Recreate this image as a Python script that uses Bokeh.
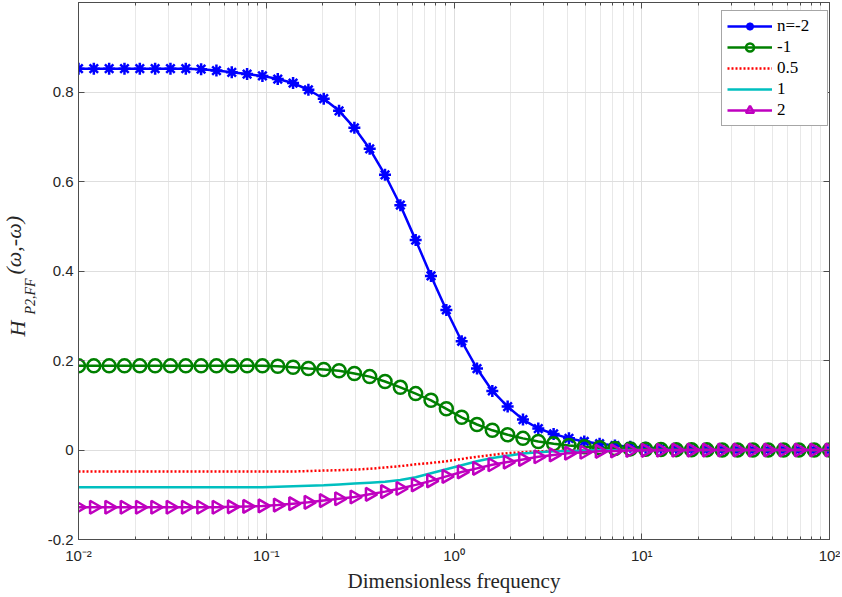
import numpy as np
from bokeh.plotting import figure
from bokeh.models import (LogAxis, LinearAxis, FixedTicker, Legend,
                          LegendItem, Range1d, Title)
from bokeh.embed import file_html
from bokeh.resources import INLINE

# ---------------- data ----------------
freq = [0.01, 0.012068, 0.014563, 0.017575, 0.021210, 0.025595, 0.030888,
        0.037276, 0.044984, 0.054287, 0.065513, 0.079060, 0.095410, 0.11514,
        0.13895, 0.16768, 0.20236, 0.24421, 0.29471, 0.35565, 0.42919,
        0.51795, 0.62506, 0.75431, 0.91030, 1.0985, 1.3257, 1.5999, 1.9307,
        2.3300, 2.8118, 3.3932, 4.0949, 4.9417, 5.9636, 7.1969, 8.6851,
        10.481, 12.649, 15.264, 18.421, 22.230, 26.827, 32.375, 39.069,
        47.149, 56.899, 68.665, 82.864, 100.0]

h_n_m2 = [0.852, 0.852, 0.852, 0.852, 0.852, 0.852, 0.852, 0.852, 0.851,
          0.848, 0.844, 0.840, 0.836, 0.829, 0.820, 0.805, 0.785, 0.758,
          0.720, 0.673, 0.615, 0.547, 0.469, 0.389, 0.313, 0.243, 0.182,
          0.132, 0.097, 0.068, 0.048, 0.036, 0.026, 0.019, 0.014, 0.010,
          0.007, 0.005, 0.0035, 0.0025, 0.0017, 0.0012, 0.0008, 0.0005,
          0.0003, 0.0002, 0.0001, 0.0001, 0.0, 0.0]

h_n_m1 = [0.188, 0.188, 0.188, 0.188, 0.188, 0.188, 0.188, 0.188, 0.188,
          0.188, 0.188, 0.188, 0.188, 0.187, 0.185, 0.182, 0.180, 0.177,
          0.171, 0.164, 0.153, 0.140, 0.126, 0.111, 0.092, 0.073, 0.057,
          0.044, 0.034, 0.026, 0.019, 0.014, 0.010, 0.007, 0.005, 0.0035,
          0.0025, 0.0018, 0.0012, 0.0008, 0.0005, 0.0003, 0.0002, 0.0001,
          0.0, 0.0, 0.0, 0.0, 0.0, 0.0]

h_n_05 = [-0.048, -0.048, -0.048, -0.048, -0.048, -0.048, -0.048, -0.048,
          -0.048, -0.048, -0.048, -0.048, -0.048, -0.048, -0.048, -0.047,
          -0.046, -0.045, -0.044, -0.042, -0.039, -0.036, -0.032, -0.029,
          -0.025, -0.020, -0.015, -0.011, -0.007, -0.005, -0.003, -0.002,
          -0.0012, -0.0008, -0.0005, -0.0003, -0.0002, -0.0001, 0.0, 0.0,
          0.0, 0.0, 0.0, 0.0, 0.0, 0.0, 0.0, 0.0, 0.0, 0.0]

h_n_1 = [-0.083, -0.083, -0.083, -0.083, -0.083, -0.083, -0.083, -0.083,
         -0.083, -0.083, -0.083, -0.083, -0.083, -0.082, -0.081, -0.080,
         -0.079, -0.077, -0.075, -0.073, -0.071, -0.067, -0.061, -0.052,
         -0.043, -0.034, -0.025, -0.018, -0.013, -0.008, -0.005, -0.003,
         -0.002, -0.001, -0.0006, -0.0003, -0.0001, 0.0, 0.0, 0.0, 0.0,
         0.0, 0.0, 0.0, 0.0, 0.0, 0.0, 0.0, 0.0, 0.0]

h_n_2 = [-0.128, -0.128, -0.128, -0.128, -0.128, -0.128, -0.128, -0.128,
         -0.128, -0.128, -0.127, -0.126, -0.125, -0.123, -0.120, -0.117,
         -0.113, -0.109, -0.105, -0.099, -0.093, -0.086, -0.078, -0.069,
         -0.059, -0.049, -0.041, -0.033, -0.027, -0.021, -0.015, -0.011,
         -0.007, -0.005, -0.003, -0.002, -0.0012, -0.0008, -0.0005, -0.0003,
         -0.0002, -0.0001, 0.0, 0.0, 0.0, 0.0, 0.0, 0.0, 0.0, 0.0]

series_labels = ["n=-2", "-1", "0.5", "1", "2"]
x_ticks = [0.01, 0.1, 1, 10, 100]
x_tick_labels = ["10\u207b\u00b2", "10\u207b\u00b9", "10\u2070", "10\u00b9", "10\u00b2"]
y_ticks = [-0.2, 0, 0.2, 0.4, 0.6, 0.8]
y_tick_labels = ["-0.2", "0", "0.2", "0.4", "0.6", "0.8"]
x_label = "Dimensionless frequency"
y_label_h = "H"
y_label_sub = "P2,FF"
y_label_arg = "(\u03c9,-\u03c9)"

# ---------------- figure ----------------
AX = "#4d4d4d"
TICK_FONT = "Liberation Sans"
SERIF = "Liberation Serif"

p = figure(width=840, height=595, x_axis_type="log",
           x_range=Range1d(0.01, 100), y_range=Range1d(-0.2, 1.0),
           output_backend="svg", toolbar_location=None,
           min_border_left=78, min_border_right=11, min_border_top=2,
           min_border_bottom=55)
p.background_fill_color = "white"
p.border_fill_color = "white"
p.outline_line_color = AX
p.outline_line_width = 1

minor = [m * 10.0 ** e for e in range(-2, 2) for m in range(2, 10)]

p.xaxis.ticker = FixedTicker(ticks=x_ticks, minor_ticks=minor)
p.xaxis.major_label_overrides = {t: l for t, l in zip(x_ticks, x_tick_labels)}
p.yaxis.ticker = FixedTicker(ticks=y_ticks)
p.yaxis.major_label_overrides = {t: l for t, l in zip(y_ticks, y_tick_labels)}

for ax in (p.xaxis[0], p.yaxis[0]):
    ax.axis_line_color = AX
    ax.major_tick_line_color = AX
    ax.minor_tick_line_color = AX
    ax.major_tick_in = 6
    ax.major_tick_out = 0
    ax.minor_tick_in = 3
    ax.minor_tick_out = 0
    ax.major_label_text_font = TICK_FONT
    ax.major_label_text_font_size = "15px"
    ax.major_label_text_color = "#262626"
p.yaxis.minor_tick_line_color = None
p.xaxis.major_label_standoff = 7
p.yaxis.major_label_standoff = 5

p.xaxis.axis_label = x_label
p.xaxis.axis_label_text_font = SERIF
p.xaxis.axis_label_text_font_style = "normal"
p.xaxis.axis_label_text_font_size = "21px"
p.xaxis.axis_label_text_color = "#262626"
p.xaxis.axis_label_standoff = 2

# box-style axes on top and right (ticks only)
top = LogAxis(ticker=FixedTicker(ticks=x_ticks, minor_ticks=minor))
right = LinearAxis(ticker=FixedTicker(ticks=y_ticks))
for ax in (top, right):
    ax.axis_line_color = AX
    ax.major_tick_line_color = AX
    ax.minor_tick_line_color = AX
    ax.major_tick_in = 6
    ax.major_tick_out = 0
    ax.minor_tick_in = 3
    ax.minor_tick_out = 0
    ax.major_label_text_font_size = "0px"
    ax.major_label_standoff = 0
    ax.major_label_text_color = None
right.minor_tick_line_color = None
p.add_layout(top, "above")
p.add_layout(right, "right")

# grid
p.xgrid.grid_line_color = "#dedede"
p.xgrid.minor_grid_line_color = "#e8e8e8"
p.ygrid.grid_line_color = "#dedede"

# ---------------- series ----------------
LW = 2.5
r1l = p.line(freq, h_n_m2, line_color="#0000FF", line_width=LW)
r1s = p.scatter(freq, h_n_m2, marker="asterisk", size=12, line_color="#0000FF",
                line_width=2.5)
r2l = p.line(freq, h_n_m1, line_color="#008000", line_width=LW)
r2s = p.scatter(freq, h_n_m1, marker="circle", size=13, fill_color=None,
                line_color="#008000", line_width=2.5)
r3l = p.line(freq, h_n_05, line_color="#FF0000", line_width=LW, line_dash="2 2")
r4l = p.line(freq, h_n_1, line_color="#00BFBF", line_width=LW)
r5l = p.line(freq, h_n_2, line_color="#BF00BF", line_width=LW)
r5s = p.scatter(freq, h_n_2, marker="triangle", angle=-np.pi / 2, size=13,
                fill_color=None, line_color="#BF00BF", line_width=2.5)

legend = Legend(items=[
    LegendItem(label=series_labels[0], renderers=[r1l, r1s]),
    LegendItem(label=series_labels[1], renderers=[r2l, r2s]),
    LegendItem(label=series_labels[2], renderers=[r3l]),
    LegendItem(label=series_labels[3], renderers=[r4l]),
    LegendItem(label=series_labels[4], renderers=[r5l, r5s]),
], location=(643, 413))
legend.label_text_font = SERIF
legend.label_text_font_size = "17px"
legend.label_text_color = "#000000"
legend.label_height = 20
legend.glyph_height = 20
legend.glyph_width = 45
legend.label_width = 45
legend.label_standoff = 5
legend.spacing = 1
legend.padding = 5
legend.margin = 0
legend.border_line_color = AX
legend.border_line_width = 1
legend.background_fill_color = "white"
legend.background_fill_alpha = 1.0
p.add_layout(legend)

# ---------------- y-axis label: H_{P2,FF}(w,-w) built from titles ----------
def ytitle(text, offset, standoff, size):
    return Title(text=text, align="left", offset=offset, standoff=standoff,
                 text_font=SERIF, text_font_style="italic",
                 text_font_size=size, text_color="#262626")

p.add_layout(ytitle(y_label_sub, 225, 13, "14px"), "left")
p.add_layout(ytitle(y_label_h, 203, -30, "22px"), "left")
p.add_layout(ytitle(y_label_arg, 265, -23, "22px"), "left")

open("out.html", "w").write(file_html(p, INLINE))
